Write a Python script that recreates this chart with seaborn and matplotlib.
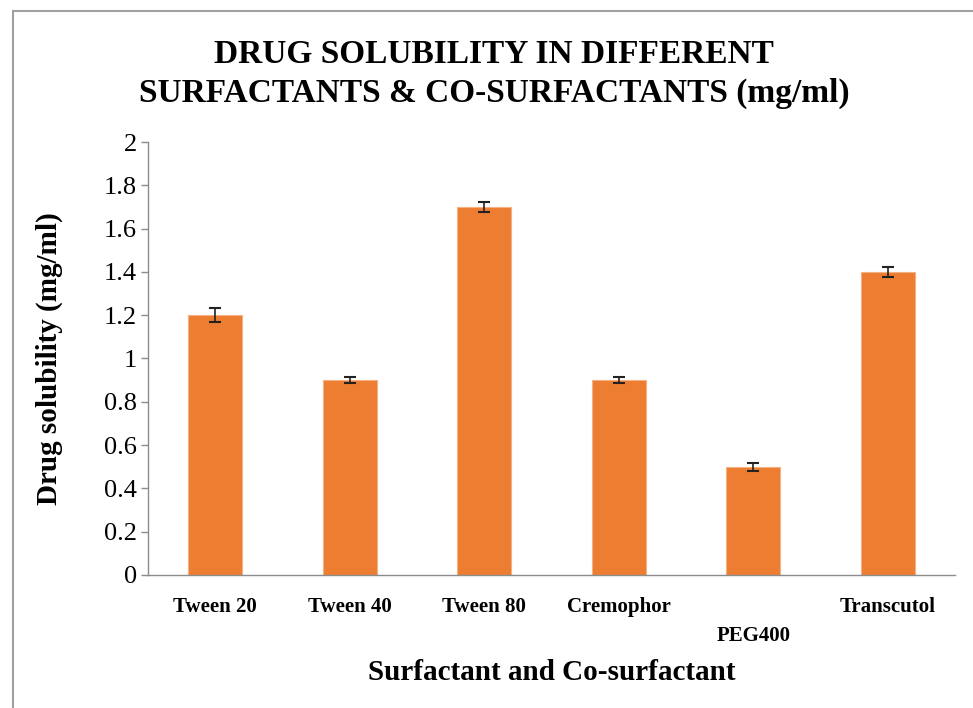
import numpy as np
import pandas as pd
import matplotlib.pyplot as plt
import seaborn as sns
from matplotlib.lines import Line2D

# Data
categories = ["Tween 20", "Tween 40", "Tween 80", "Cremophor", "PEG400", "Transcutol"]
solubility = [1.2, 0.9, 1.7, 0.9, 0.5, 1.4]
errors = [0.033, 0.015, 0.024, 0.013, 0.019, 0.022]
y_ticks = [0, 0.2, 0.4, 0.6, 0.8, 1, 1.2, 1.4, 1.6, 1.8, 2]

df = pd.DataFrame({"Surfactant": categories, "Solubility": solubility})

sns.set_style("white")
plt.rcParams['font.family'] = ['Liberation Serif', 'DejaVu Serif']
plt.rcParams['text.color'] = 'black'
plt.rcParams['xtick.color'] = 'black'
plt.rcParams['ytick.color'] = 'black'
plt.rcParams['axes.labelcolor'] = 'black'

fig = plt.figure(figsize=(9.73, 7.08), dpi=100)
ax = fig.add_axes([0.1521, 0.1879, 0.8294, 0.6115])

sns.barplot(data=df, x="Surfactant", y="Solubility", color="#ED7D31",
            saturation=1, width=0.4, edgecolor="#F4B183", linewidth=0.8, ax=ax)

# error bars at bar centres
centres = [p.get_x() + p.get_width() / 2 for p in ax.patches]
ax.errorbar(centres, solubility, yerr=errors, fmt="none", ecolor="#222222",
            elinewidth=1.2, capsize=4.3, capthick=1.5)

ax.set_ylim(0, 2)
ax.set_xlim(-0.5, len(categories) - 0.5)
ax.set_yticks(y_ticks)
ax.set_yticklabels([f"{v:g}" for v in y_ticks], fontsize=19)

# category labels in the middle, tick marks at the boundaries
ax.set_xticks(range(len(categories)))
ax.set_xticklabels(categories, fontsize=15, fontweight="bold")
ax.set_xticks(np.arange(-0.5, len(categories)), minor=True)
ax.tick_params(axis="x", which="major", length=0, pad=16)
ax.tick_params(axis="x", which="minor", length=6, width=1, color="#8C8C8C", direction="out")
ax.tick_params(axis="y", length=5, width=1, color="#8C8C8C", direction="out", pad=3, left=True)
ax.xaxis.get_major_ticks()[4].set_pad(37)

for s in ["top", "right"]:
    ax.spines[s].set_visible(False)
for s in ["left", "bottom"]:
    ax.spines[s].set_color("#8C8C8C")
    ax.spines[s].set_linewidth(1)

ax.set_xlabel("Surfactant and Co-surfactant", fontsize=21, fontweight="bold", labelpad=9)
ax.set_ylabel("Drug solubility (mg/ml)", fontsize=21, fontweight="bold", labelpad=29)
fig.text(494 / 973, 1 - 74 / 708,
         "DRUG SOLUBILITY IN DIFFERENT\nSURFACTANTS & CO-SURFACTANTS (mg/ml)",
         ha="center", va="center", fontsize=24, fontweight="bold", linespacing=1.32)

# frame around chart area (left and top edges only visible)
fig.add_artist(Line2D([0.0134, 0.0134], [0, 0.985], color="#A0A0A0", lw=1.5, transform=fig.transFigure))
fig.add_artist(Line2D([0.0134, 1], [0.985, 0.985], color="#A0A0A0", lw=1.5, transform=fig.transFigure))

fig.savefig("out.png", dpi=100, facecolor="white")
